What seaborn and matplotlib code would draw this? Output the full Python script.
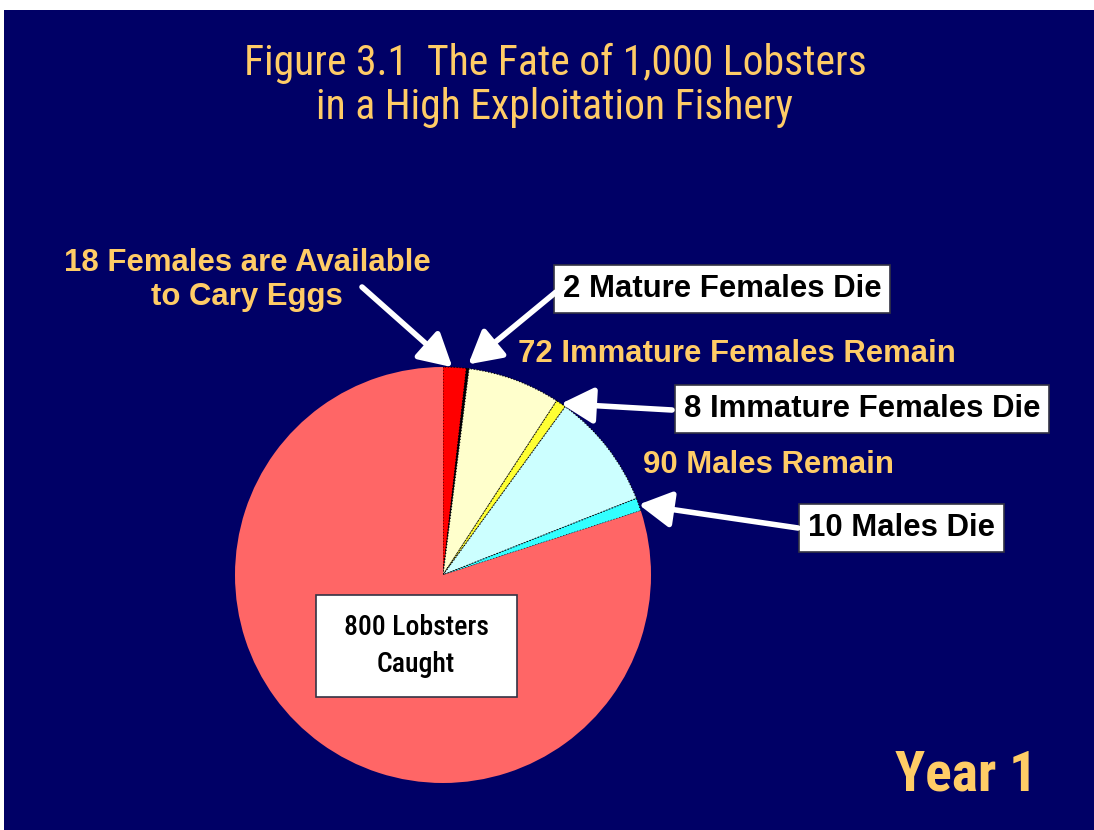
import numpy as np
import seaborn as sns
import matplotlib.pyplot as plt

# data
labels = ["18 Females are Available\nto Cary Eggs", "2 Mature Females Die",
          "72 Immature Females Remain", "8 Immature Females Die",
          "90 Males Remain", "10 Males Die", "800 Lobsters\nCaught"]
counts = [18, 2, 72, 8, 90, 10, 800]
colors = ["#ff0000", "#000000", "#ffffcc", "#ffff33", "#ccffff", "#33ffff", "#ff6666"]

navy = "#000066"
gold = "#ffcc66"

sns.set_theme(style="white")
plt.rcParams['font.family'] = ['Liberation Sans', 'DejaVu Sans']

W, H = 1094, 830
fig = plt.figure(figsize=(W / 100, H / 100), dpi=100)
fig.patch.set_facecolor("white")
ax = fig.add_axes([4 / W, 0, 1 - 4 / W, 1 - 10 / H])
ax.set_facecolor(navy)

def Y(y):
    # picture rows -> axes units
    return H - y

cx, cy, r = 443, Y(575), 208
wedges, _ = ax.pie(counts, colors=colors, startangle=90, counterclock=False,
                   center=(cx, cy), radius=r, frame=True,
                   wedgeprops=dict(linewidth=0.8, edgecolor="black", linestyle=":"))
wedges[-1].set_edgecolor("none")
wedges[-1].set_linestyle("-")
ax.set_xlim(4, W)
ax.set_ylim(0, H - 10)
ax.set_aspect("auto")
ax.set_xticks([])
ax.set_yticks([])
for s in ax.spines.values():
    s.set_visible(False)

def tip(i, frac=0.5, rr=1.0):
    w = wedges[i]
    th = np.deg2rad(w.theta1 + frac * (w.theta2 - w.theta1))
    return cx + rr * r * np.cos(th), cy + rr * r * np.sin(th)

narrow = ['Roboto Condensed', 'Liberation Sans Narrow', 'Liberation Sans']

ax.text(555, Y(63), "Figure 3.1  The Fate of 1,000 Lobsters", color=gold,
        fontsize=30, family=narrow, ha="center", va="center")
ax.text(555, Y(107), "in a High Exploitation Fishery", color=gold,
        fontsize=30, family=narrow, ha="center", va="center")
ax.text(966, Y(775), "Year 1", color=gold, fontsize=40, family=narrow,
        fontweight="bold", ha="center", va="center")

lab_kw = dict(fontsize=22.4, fontweight="bold", ha="left", va="center")
box = dict(boxstyle="square,pad=0.28", fc="white", ec="#333344", lw=1.2)

ax.text(247, Y(280), labels[0], color=gold, fontsize=22.4, fontweight="bold",
        ha="center", va="center", linespacing=1.15)
ax.text(563, Y(289), labels[1], color="black", bbox=box, **lab_kw)
ax.text(518, Y(354), labels[2], color=gold, **lab_kw)
ax.text(684, Y(409), labels[3], color="black", bbox=box, **lab_kw)
ax.text(643, Y(465), labels[4], color=gold, **lab_kw)
ax.text(808, Y(528), labels[5], color="black", bbox=box, **lab_kw)

# box for the big slice
ax.add_patch(plt.Rectangle((316, Y(697)), 201, 102, fc="white", ec="#333344",
                           lw=1.2, zorder=3))
ax.text(416, Y(646), labels[6], color="black", fontsize=20, family=narrow,
        fontweight="medium", ha="center", va="center", linespacing=1.5,
        zorder=4)

arrow = dict(arrowstyle="-|>,head_length=0.9,head_width=0.5", color="white",
             lw=4, shrinkA=0, shrinkB=0, mutation_scale=22)
ax.annotate("", xy=tip(0, 0.6, 1.0), xytext=(362, Y(287)), arrowprops=arrow)
ax.annotate("", xy=tip(1, 0.5, 1.02), xytext=(556, Y(292)), arrowprops=arrow)
ax.annotate("", xy=tip(3, 0.5, 1.0), xytext=(672, Y(410)), arrowprops=arrow)
ax.annotate("", xy=tip(5, 0.5, 1.0), xytext=(798, Y(528)), arrowprops=arrow)

fig.savefig("out.png", dpi=100, facecolor=fig.get_facecolor())
